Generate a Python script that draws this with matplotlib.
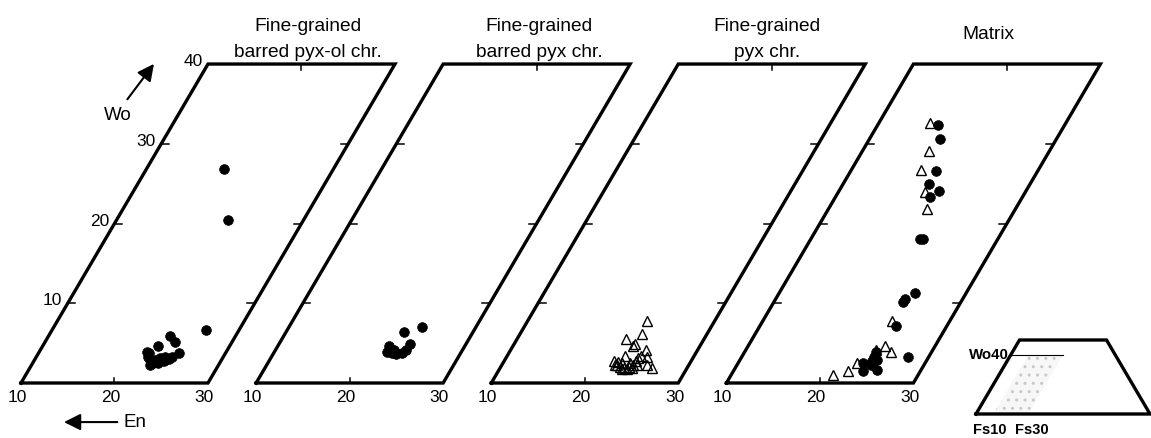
import matplotlib.pyplot as plt
import numpy as np

plt.rcParams['font.family'] = ['Liberation Sans', 'DejaVu Sans']

# Fs / Wo (mol%)
# fine-grained barred pyx-ol chondrules (filled circles)
pyxol_fs = [18.3, 21.9, 26.4, 22.4, 23.0, 23.9, 25.1, 21.8, 22.4, 22.9, 23.4,
            23.9, 24.3, 24.5, 22.0, 22.9, 21.5, 23.8, 23.3, 22.7]
pyxol_wo = [26.8, 20.4, 6.7, 4.6, 5.9, 5.1, 3.7, 3.7, 2.9, 2.5, 2.5,
            2.7, 3.0, 3.3, 3.2, 2.9, 3.9, 3.3, 3.1, 2.3]

# fine-grained barred pyx chondrules (filled circles)
barpyx_fs = [24.2, 22.6, 24.0, 21.9, 22.0, 22.7, 23.2, 23.7, 24.0, 22.6]
barpyx_wo = [7.0, 6.4, 4.9, 4.6, 3.9, 3.7, 3.6, 3.7, 4.1, 4.2]

# fine-grained pyx chondrules (open triangles)
pyx_fs = [22.8, 23.1, 21.7, 22.9, 22.9, 24.4, 24.3, 25.1, 22.6, 21.7, 25.5,
          26.2, 24.1, 22.3, 22.8, 23.2, 23.7, 24.1, 24.4, 22.7, 23.6, 22.1,
          23.6, 22.3, 24.1, 24.1, 23.1]
pyx_wo = [7.8, 6.1, 5.5, 4.9, 4.6, 4.2, 3.4, 3.2, 3.4, 2.8, 2.3,
          1.9, 3.1, 2.3, 2.0, 1.9, 2.0, 2.2, 2.3, 2.5, 2.5, 2.3,
          1.8, 2.6, 1.9, 2.7, 1.8]

# matrix (circles and triangles)
mat_circ_fs = [16.4, 17.5, 19.1, 19.2, 20.7, 20.1, 21.7, 22.0, 24.5, 23.8, 23.8,
               24.5, 27.8, 24.0, 24.1, 24.2, 24.7, 23.4, 23.9, 25.3, 24.3]
mat_circ_wo = [32.4, 30.6, 26.6, 25.0, 24.1, 23.3, 18.1, 18.1, 11.3, 10.5, 10.2,
               7.2, 3.2, 3.9, 3.3, 2.7, 2.9, 2.5, 1.5, 1.6, 2.3]
mat_tri_fs = [15.5, 17.1, 17.5, 19.2, 20.5, 23.8, 24.7, 25.7, 23.9, 22.7, 22.2, 20.9]
mat_tri_wo = [32.6, 29.1, 26.7, 24.0, 21.8, 7.8, 4.6, 3.9, 4.2, 2.5, 1.5, 1.0]

titles = [("Fine-grained", "barred pyx-ol chr."),
          ("Fine-grained", "barred pyx chr."),
          ("Fine-grained", "pyx chr."),
          (None, "Matrix")]
title_shift = [0.7, 0.25, -0.5, -2.0]

fs_ticks = [10, 20, 30]
wo_ticks = [10, 20, 30, 40]

spacing = 25.15


def shear(fs, wo, off):
    fs = np.asarray(fs, dtype=float)
    wo = np.asarray(wo, dtype=float)
    return off + fs + 0.5 * wo, wo


fig = plt.figure(figsize=(11.51, 4.38), dpi=100)
ax = fig.add_axes([0, 0, 1, 1])
ax.set_xlim(7.754, 130.86)
ax.set_ylim(-6.897, 48.03)
ax.axis('off')

circle = dict(marker='o', ls='none', color='k', markersize=7.0, mew=0.5)
triangle = dict(marker='^', ls='none', mfc='none', mec='k', markersize=6.6, mew=1.0)

panels = [[(pyxol_fs, pyxol_wo, circle)],
          [(barpyx_fs, barpyx_wo, circle)],
          [(pyx_fs, pyx_wo, triangle)],
          [(mat_circ_fs, mat_circ_wo, circle), (mat_tri_fs, mat_tri_wo, triangle)]]

for k, series in enumerate(panels):
    off = spacing * k
    # frame
    x, y = shear([10, 30, 30, 10, 10], [0, 0, 40, 40, 0], off)
    ax.plot(x, y, color='k', lw=2.4, solid_joinstyle='miter', zorder=2)
    # ticks
    for w in [10, 20, 30]:
        xl, _ = shear(10, w, off)
        xr, _ = shear(30, w, off)
        ax.plot([xl, xl + 0.8], [w, w], color='k', lw=1.1)
        ax.plot([xr, xr - 0.8], [w, w], color='k', lw=1.1)
    xb, _ = shear(20, 0, off)
    xt, _ = shear(20, 40, off)
    ax.plot([xb, xb], [0, 0.65], color='k', lw=1.1)
    ax.plot([xt, xt], [40, 39.3], color='k', lw=1.1)
    # Fs labels
    for f in fs_ticks:
        xf, _ = shear(f, 0, off)
        ax.text(xf - 0.4, -1.8, str(f), ha='center', va='center', fontsize=12.5)
    # titles
    top1, top2 = titles[k]
    xc = off + 40 + title_shift[k]
    if top1 is None:
        ax.text(xc, 43.1, top2, ha='center', va='baseline', fontsize=13.8)
    else:
        ax.text(xc, 44.2, top1, ha='center', va='baseline', fontsize=13.8)
        ax.text(xc, 40.9, top2, ha='center', va='baseline', fontsize=13.8)
    # data
    for fs, wo, style in series:
        px, py = shear(fs, wo, off)
        ax.plot(px, py, zorder=3, **style)

# Wo labels on the first panel
for w in wo_ticks:
    xl, _ = shear(10, w, 0)
    ax.text(xl - 0.6, w + 0.3, str(w), ha='right', va='center', fontsize=12.5)

# component arrows
ax.annotate('', xy=(24.4, 40.3), xytext=(21.2, 35.3),
            arrowprops=dict(arrowstyle='-|>', color='k', lw=1.5, mutation_scale=25))
ax.text(20.4, 33.5, 'Wo', ha='center', va='center', fontsize=13.5)
ax.annotate('', xy=(14.3, -4.9), xytext=(20.6, -4.9),
            arrowprops=dict(arrowstyle='-|>', color='k', lw=1.5, mutation_scale=25))
ax.text(21.0, -4.9, 'En', ha='left', va='center', fontsize=13.5)

# inset: pyroxene quadrilateral with the plotted field shaded
axin = fig.add_axes([976 / 1151, 24 / 438, 174 / 1151, 74 / 438])
axin.set_xlim(0, 100)
axin.set_ylim(0, 43.3)
axin.axis('off')
h = np.sqrt(3) / 2
qx = [0, 100, 75, 25, 0]
qy = [0, 0, 50 * h, 50 * h, 0]
fx = [10, 30, 50, 30]
fy = [0, 0, 40 * h, 40 * h]
axin.fill(fx, fy, facecolor='#f7f7f7', edgecolor='#c8c8c8', hatch='..', lw=0)
axin.plot(qx, qy, color='k', lw=2.4, solid_joinstyle='miter', clip_on=False)
axin.plot([20, 50], [40 * h, 40 * h], color='k', lw=0.8)
axin.text(19, 40 * h, 'Wo40', ha='right', va='center', fontsize=10.8, fontweight='bold')
axin.text(8, -9.4, 'Fs10', ha='center', va='center', fontsize=10.5, fontweight='bold')
axin.text(32, -9.4, 'Fs30', ha='center', va='center', fontsize=10.5, fontweight='bold')

plt.savefig('out.png', dpi=100)
